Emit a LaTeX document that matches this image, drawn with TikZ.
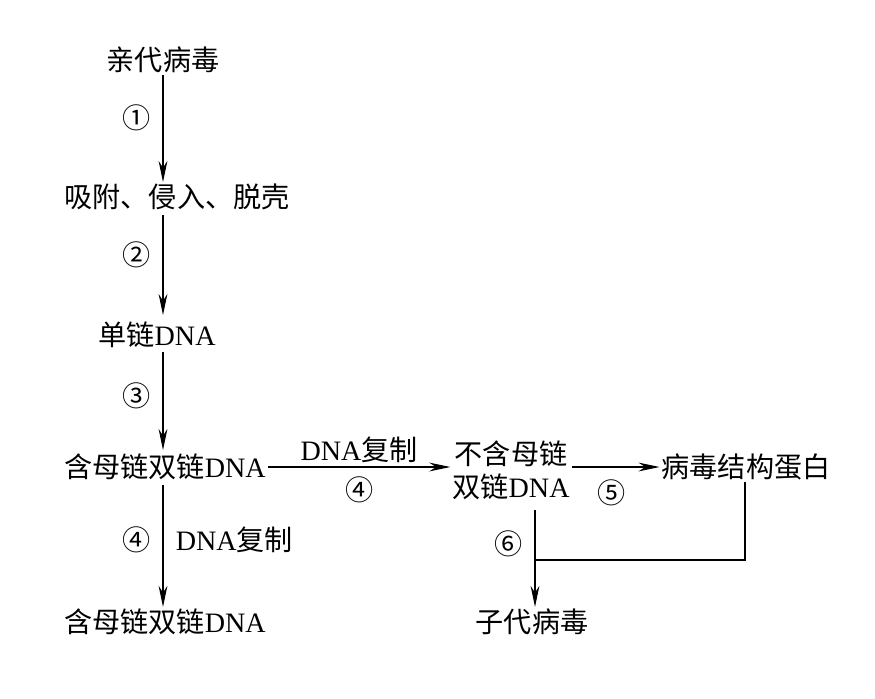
\documentclass[tikz,border=0pt]{standalone}
\usepackage{fontspec}
\setmainfont{Liberation Serif}
\newfontfamily\cjk{Noto Sans CJK SC}
\usetikzlibrary{positioning,arrows.meta}
\newcommand{\zh}[1]{{\cjk #1}}
\tikzset{
  lbl/.style={font=\fontsize{16}{19}\selectfont, inner sep=1pt},
  num/.style={font=\fontsize{16}{19}\selectfont\cjk, inner sep=1pt},
  flow/.style={-{Stealth[length=12pt,width=5pt]}, line width=0.6pt},
}
\begin{document}
\begin{tikzpicture}[x=0.02cm,y=-0.02cm]
  \useasboundingbox (0,0) rectangle (875,698);
  \node[lbl] (parent) at (163,60) {\zh{亲代病毒}};
  \node[lbl] (entry) at (177,197) {\zh{吸附、侵入、脱壳}};
  \node[lbl] (ss) at (157,335) {\zh{单链}DNA};
  \node[lbl] (ds) at (165,467) {\zh{含母链双链}DNA};
  \node[lbl, align=center] (new) at (511,470) {\zh{不含母链}\\\zh{双链}DNA};
  \node[lbl] (prot) at (746,467) {\zh{病毒结构蛋白}};
  \node[lbl] (ds2) at (165,622) {\zh{含母链双链}DNA};
  \node[lbl] (child) at (532,622) {\zh{子代病毒}};
  \coordinate (j) at (535,560);
  % arrows
  \draw[flow] (parent.south -| 163,0) -- (163,182) node[num, pos=0.4, left=6pt] {①};
  \draw[flow] (163,215) -- (163,315) node[num, pos=0.4, left=6pt] {②};
  \draw[flow] (163,352) -- (163,450) node[num, pos=0.45, left=6pt] {③};
  \draw[flow] (ds.east) -- (new.west |- ds.east)
    node[lbl, midway, above=1pt] {DNA\zh{复制}}
    node[num, midway, below=4pt] {④};
  \draw[flow] (new.east |- prot.west) -- (prot.west);
  \node[num] at (612,493) {⑤};
  \draw[flow] (163,485) -- (ds2.north -| 163,0)
    node[num, pos=0.45, left=6pt] {④}
    node[lbl, pos=0.45, right=6pt] {DNA\zh{复制}};
  \draw[flow] (535,510) -- (child.north -| j) node[num, pos=0.35, left=6pt] {⑥};
  \draw[line width=0.9pt] (prot.south -| 745,0) -- (745,560) -- (j);
\end{tikzpicture}
\end{document}
